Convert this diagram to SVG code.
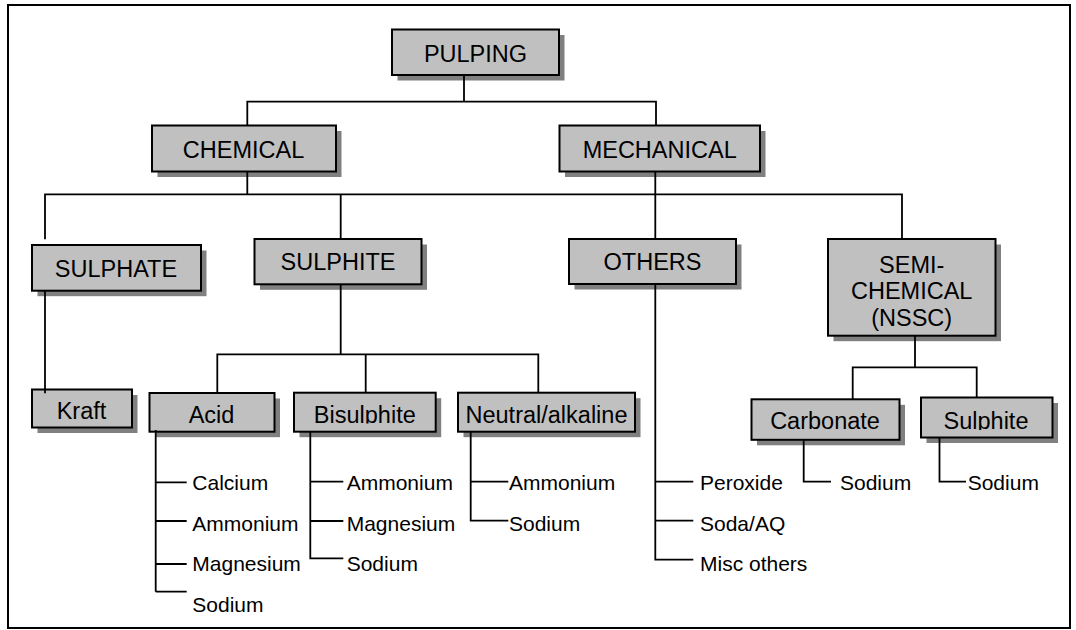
<svg xmlns="http://www.w3.org/2000/svg" width="1076" height="630" viewBox="0 0 1076 630">
  <style>
    .frame { fill: #ffffff; stroke: #000000; stroke-width: 2; }
    .shadow { fill: #808080; }
    .box { fill: #c0c0c0; stroke: #000000; stroke-width: 2; }
    .lbl { font-family: "Liberation Sans", Arial, sans-serif; font-size: 23.5px; fill: #000000; text-anchor: middle; }
    .leaf { font-family: "Liberation Sans", Arial, sans-serif; font-size: 21px; fill: #000000; }
    .wire { fill: none; stroke: #000000; stroke-width: 1.8; }
  </style>
  <defs>
    <!-- text frames of the small boxes cut off the descenders -->
    <clipPath id="clipBisulphite"><rect x="294" y="392" width="142" height="31.5"/></clipPath>
    <clipPath id="clipNeutral"><rect x="458" y="392" width="177" height="31.5"/></clipPath>
    <clipPath id="clipSulphite2"><rect x="921" y="397" width="131" height="33"/></clipPath>
  </defs>

  <rect class="frame" x="8" y="5" width="1062" height="623"/>

  <g id="node-pulping">
    <rect class="shadow" x="397.5" y="35" width="167" height="45.5"/>
    <rect class="box" x="392" y="29.5" width="167" height="45.5"/>
    <text class="lbl" x="475.5" y="61.5">PULPING</text>
  </g>
  <g id="node-chemical">
    <rect class="shadow" x="157.5" y="131" width="184" height="46"/>
    <rect class="box" x="152" y="125.5" width="184" height="46"/>
    <text class="lbl" x="243.5" y="157.5">CHEMICAL</text>
  </g>
  <g id="node-mechanical">
    <rect class="shadow" x="565" y="131" width="200.5" height="46"/>
    <rect class="box" x="559.5" y="125.5" width="200.5" height="46"/>
    <text class="lbl" x="659.7" y="157.5">MECHANICAL</text>
  </g>
  <g id="node-sulphate">
    <rect class="shadow" x="37.5" y="250.5" width="169" height="45.7"/>
    <rect class="box" x="32" y="245" width="169" height="45.7"/>
    <text class="lbl" x="116" y="277.3">SULPHATE</text>
  </g>
  <g id="node-sulphite">
    <rect class="shadow" x="260" y="244.5" width="167" height="45.3"/>
    <rect class="box" x="254.5" y="239" width="167" height="45.3"/>
    <text class="lbl" x="338" y="270">SULPHITE</text>
  </g>
  <g id="node-others">
    <rect class="shadow" x="574.5" y="244.5" width="167" height="45"/>
    <rect class="box" x="569" y="239" width="167" height="45"/>
    <text class="lbl" x="652.5" y="270">OTHERS</text>
  </g>
  <g id="node-semichemical">
    <rect class="shadow" x="833.5" y="244.5" width="167.5" height="96.7"/>
    <rect class="box" x="828" y="239" width="167.5" height="96.7"/>
    <text class="lbl" x="911.7" y="272.7">SEMI-</text>
    <text class="lbl" x="911.7" y="299.2">CHEMICAL</text>
    <text class="lbl" x="911.7" y="325.7">(NSSC)</text>
  </g>
  <g id="node-kraft">
    <rect class="shadow" x="37.5" y="395" width="100" height="38"/>
    <rect class="box" x="32" y="389.5" width="100" height="38"/>
    <text class="lbl" x="81.5" y="419.3">Kraft</text>
  </g>
  <g id="node-acid">
    <rect class="shadow" x="155" y="398.5" width="125" height="38.7"/>
    <rect class="box" x="149.5" y="393" width="125" height="38.7"/>
    <text class="lbl" x="211.5" y="423.3">Acid</text>
  </g>
  <g id="node-bisulphite">
    <rect class="shadow" x="299.5" y="398.2" width="141.7" height="39"/>
    <rect class="box" x="294" y="392.7" width="141.7" height="39"/>
    <text class="lbl" x="364.8" y="422.5" clip-path="url(#clipBisulphite)">Bisulphite</text>
  </g>
  <g id="node-neutral">
    <rect class="shadow" x="463.5" y="398.2" width="177" height="39"/>
    <rect class="box" x="458" y="392.7" width="177" height="39"/>
    <text class="lbl" x="546.5" y="422.5" clip-path="url(#clipNeutral)">Neutral/alkaline</text>
  </g>
  <g id="node-carbonate">
    <rect class="shadow" x="757" y="404.8" width="148" height="40.5"/>
    <rect class="box" x="751.5" y="399.3" width="148" height="40.5"/>
    <text class="lbl" x="825" y="429.3">Carbonate</text>
  </g>
  <g id="node-sulphite2">
    <rect class="shadow" x="926.5" y="403" width="131.5" height="40"/>
    <rect class="box" x="921" y="397.5" width="131.5" height="40"/>
    <text class="lbl" x="986" y="429" clip-path="url(#clipSulphite2)">Sulphite</text>
  </g>

  <g id="connectors">
    <!-- top level -->
    <path class="wire" d="M464 75 V101.7 M247.3 125.5 V101.7 H656 V125.5"/>
    <path class="wire" d="M247.3 171.5 V194.3 M655.3 171.5 V194.3 M45 239.3 V194.3 H902 V239 M340.7 194.3 V239 M655.3 194.3 V239"/>
    <!-- sulphate -->
    <path class="wire" d="M45 290.7 V393.3"/>
    <!-- sulphite -->
    <path class="wire" d="M340.7 284.3 V354.3 M217.3 392.7 V354.3 H538.3 V392.7 M365.7 354.3 V392.7"/>
    <!-- acid leaves -->
    <path class="wire" d="M155.7 430 V591.7 M155.7 482.3 H186.7 M155.7 521 H186.7 M155.7 564 H186.7 M155.7 591.7 H186.7"/>
    <!-- bisulphite leaves -->
    <path class="wire" d="M310.3 431.7 V558.3 H343.3 M310.3 481.7 H343.3 M310.3 521 H343.3"/>
    <!-- neutral leaves -->
    <path class="wire" d="M470.7 431.7 V520.7 H508.3 M470.7 481.7 H508.3"/>
    <!-- others leaves -->
    <path class="wire" d="M655.3 284 V559.7 H693.3 M655.3 481.7 H693.3 M655.3 520.7 H693.3"/>
    <!-- semi-chemical -->
    <path class="wire" d="M915 335.7 V367.3 M852.7 399.3 V367.3 H976.7 V397.5"/>
    <path class="wire" d="M803.7 439.8 V481.7 H831 M939.5 437.5 V481.7 H966"/>
  </g>

  <g id="leaf-labels">
    <text class="leaf" x="192.3" y="490">Calcium</text>
    <text class="leaf" x="192.3" y="530.5">Ammonium</text>
    <text class="leaf" x="192.3" y="571">Magnesium</text>
    <text class="leaf" x="192.3" y="612.3">Sodium</text>
    <text class="leaf" x="346.7" y="490">Ammonium</text>
    <text class="leaf" x="346.7" y="530.5">Magnesium</text>
    <text class="leaf" x="346.7" y="571">Sodium</text>
    <text class="leaf" x="509" y="490">Ammonium</text>
    <text class="leaf" x="509" y="530.5">Sodium</text>
    <text class="leaf" x="700" y="490">Peroxide</text>
    <text class="leaf" x="700" y="530.5">Soda/AQ</text>
    <text class="leaf" x="700" y="571">Misc others</text>
    <text class="leaf" x="840" y="490">Sodium</text>
    <text class="leaf" x="967.7" y="490">Sodium</text>
  </g>
</svg>
